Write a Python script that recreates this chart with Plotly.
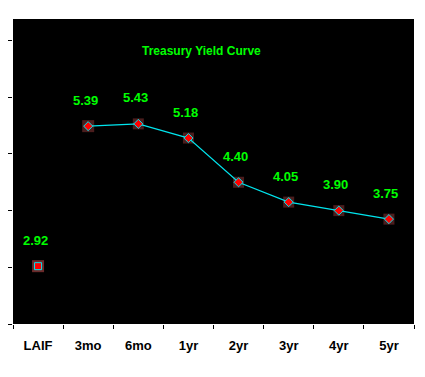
import plotly.graph_objects as go

categories = ["LAIF", "3mo", "6mo", "1yr", "2yr", "3yr", "4yr", "5yr"]
laif_value = [2.92]
curve_categories = ["3mo", "6mo", "1yr", "2yr", "3yr", "4yr", "5yr"]
curve_values = [5.39, 5.43, 5.18, 4.40, 4.05, 3.90, 3.75]
value_labels = ["2.92", "5.39", "5.43", "5.18", "4.40", "4.05", "3.90", "3.75"]
title_text = "Treasury Yield Curve"

GREEN = "#00ff00"
CYAN = "#00e5ee"
BROWN = "#6b2a2a"
RED = "#ff0000"

fig = go.Figure()

# brown square backgrounds
fig.add_trace(go.Scatter(x=["LAIF"], y=laif_value, mode="markers",
                         marker=dict(symbol="square", size=12, color=BROWN, line=dict(width=0)),
                         hoverinfo="skip", showlegend=False))
fig.add_trace(go.Scatter(x=curve_categories, y=curve_values, mode="markers",
                         marker=dict(symbol="square", size=[12, 11, 11, 11, 11, 11, 11], color=BROWN, line=dict(width=0)),
                         hoverinfo="skip", showlegend=False))
# curve line with diamond markers
fig.add_trace(go.Scatter(x=curve_categories, y=curve_values, mode="lines+markers",
                         line=dict(color=CYAN, width=1.2),
                         marker=dict(symbol="diamond", size=7, color=RED, line=dict(color=CYAN, width=1)),
                         showlegend=False))
# LAIF marker
fig.add_trace(go.Scatter(x=["LAIF"], y=laif_value, mode="markers",
                         marker=dict(symbol="square", size=7, color=RED, line=dict(color=CYAN, width=1)),
                         showlegend=False))

all_x = ["LAIF"] + curve_categories
all_y = laif_value + curve_values
for xv, yv, t in zip(all_x, all_y, value_labels):
    fig.add_annotation(x=xv, y=yv, text=t, showarrow=False, yshift=26, xshift=-3,
                       font=dict(family="Arial", size=13, color=GREEN, weight="bold"))

fig.add_annotation(xref="paper", yref="paper", x=0.469, y=0.895, text=title_text,
                   xanchor="center", yanchor="middle",
                   showarrow=False, font=dict(family="Arial", size=12, color=GREEN, weight="bold"))

fig.update_layout(
    width=409, height=361,
    margin=dict(l=5, r=3, t=11, b=45, pad=0, autoexpand=False),
    paper_bgcolor="white", plot_bgcolor="black",
    showlegend=False,
    xaxis=dict(type="category", categoryorder="array", categoryarray=categories,
               range=[-0.5, 7.5], tickson="boundaries", ticks="outside", ticklen=4,
               tickcolor="black", showgrid=False, zeroline=False, showline=False,
               ticklabelstandoff=12, automargin=False,
               tickfont=dict(family="Arial", size=13, color="black", weight="bold")),
    yaxis=dict(range=[1.9, 7.28], tick0=1.9, dtick=1, ticks="outside", ticklen=4,
               tickcolor="black", showticklabels=False, showgrid=False, zeroline=False,
               showline=False, automargin=False),
)

fig.write_html("out.html")
